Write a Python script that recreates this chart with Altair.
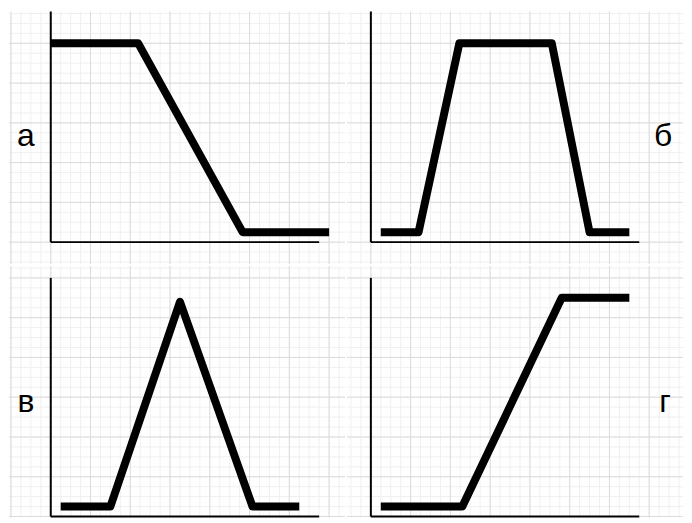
import math
import altair as alt
import pandas as pd

# Curve vertices for each panel (x along the horizontal axis, y up the vertical axis)
a_x = [0, 8.8, 19.3, 28]
a_y = [20, 20, 1, 1]

b_x = [1, 4.8, 8.9, 18.2, 22, 26]
b_y = [1, 1, 20, 20, 1, 1]

v_x = [1, 6, 13, 20.3, 25]
v_y = [1, 1, 21.6, 1, 1]

g_x = [1, 9.2, 19.2, 26]
g_y = [1, 1, 22, 22]

labels = ["а", "б", "в", "г"]

MAJOR = "#dcdcdc"
MINOR = "#f0f0f0"


def grid(channel, lo, hi):
    seq = alt.sequence(math.ceil(lo), math.floor(hi) + 1, as_="g")
    enc = {channel: alt.X("g:Q", axis=None) if channel == "x" else alt.Y("g:Q", axis=None)}
    minor = alt.Chart(seq).mark_rule(color=MINOR, strokeWidth=1).encode(**enc)
    major = alt.Chart(seq).transform_filter("datum.g % 4 === 0").mark_rule(
        color=MAJOR, strokeWidth=1).encode(**enc)
    return minor, major


def panel(xs, ys, label, xdom, ydom, w, h, axis_top, label_pos):
    df = pd.DataFrame({"x": xs, "y": ys})
    xsc = alt.Scale(domain=xdom, nice=False, zero=False)
    ysc = alt.Scale(domain=ydom, nice=False, zero=False)
    gx_minor, gx_major = grid("x", *xdom)
    gy_minor, gy_major = grid("y", *ydom)
    curve = alt.Chart(df).mark_line(
        color="black", strokeWidth=8, strokeJoin="round", strokeCap="butt"
    ).encode(
        x=alt.X("x:Q", scale=xsc, axis=None),
        y=alt.Y("y:Q", scale=ysc, axis=None),
        order=alt.Order("x:Q"),
    )
    vrule = alt.Chart().mark_rule(color="black", strokeWidth=2).encode(
        x=alt.XDatum(0, axis=None),
        y=alt.YDatum(0, axis=None),
        y2=alt.Y2Datum(axis_top),
    )
    hrule = alt.Chart().mark_rule(color="black", strokeWidth=2).encode(
        x=alt.XDatum(0, axis=None),
        x2=alt.X2Datum(27),
        y=alt.YDatum(0, axis=None),
    )
    txt = alt.Chart().mark_text(
        text=label, font="Liberation Sans", fontSize=32, color="black",
        align="center", baseline="middle"
    ).encode(
        x=alt.XDatum(label_pos[0], axis=None),
        y=alt.YDatum(label_pos[1], axis=None),
    )
    return alt.layer(gx_minor, gy_minor, gx_major, gy_major, curve, vrule, hrule, txt).properties(
        width=w, height=h)


pa = panel(a_x, a_y, labels[0], [-4.2, 29.6], [-2.2, 23.2], 338, 254, 23.2, (-2.5, 10.7))
pb = panel(b_x, b_y, labels[1], [-2.4, 31.4], [-2.2, 23.2], 338, 254, 23.2, (29.4, 10.7))
pv = panel(v_x, v_y, labels[2], [-4.2, 29.6], [-0.1, 25.2], 338, 253, 24, (-2.5, 11.5))
pg = panel(g_x, g_y, labels[3], [-2.4, 31.4], [-0.1, 25.2], 338, 253, 24, (29.6, 11.5))

chart = alt.vconcat(
    alt.hconcat(pa, pb, spacing=0),
    alt.hconcat(pv, pg, spacing=0),
    spacing=0,
).properties(padding=0, background="white").configure_view(stroke="transparent")

chart.save("out.html", embed_options={"renderer": "svg", "actions": False})
